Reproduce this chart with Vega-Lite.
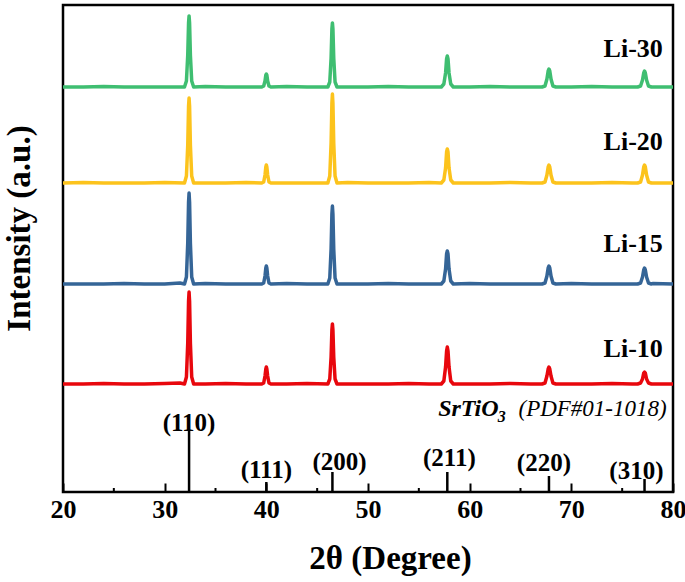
{
"$schema":"https://vega.github.io/schema/vega-lite/v6.json",
"width":610,"height":487,
"autosize":{"type":"none"},
"padding":{"left":63,"top":5,"right":12,"bottom":90},
"background":"white",
"config":{"font":"Liberation Serif","view":{"stroke":"black","strokeWidth":2.5}},
"datasets":{
"xrd":[
{"s":"Li-10","x":20,"y":108},{"s":"Li-10","x":22,"y":108},{"s":"Li-10","x":24,"y":108.5},{"s":"Li-10","x":26,"y":108},{"s":"Li-10","x":28,"y":108},{"s":"Li-10","x":30,"y":108.5},{"s":"Li-10","x":31.5,"y":109},{"s":"Li-10","x":34,"y":108},{"s":"Li-10","x":36,"y":108.5},{"s":"Li-10","x":38,"y":108},{"s":"Li-10","x":42,"y":108},{"s":"Li-10","x":44,"y":108.5},{"s":"Li-10","x":48,"y":108},{"s":"Li-10","x":50,"y":108},{"s":"Li-10","x":52,"y":108},{"s":"Li-10","x":54,"y":108.5},{"s":"Li-10","x":56,"y":108},{"s":"Li-10","x":60,"y":108},{"s":"Li-10","x":62,"y":108},{"s":"Li-10","x":64,"y":108.5},{"s":"Li-10","x":66,"y":108},{"s":"Li-10","x":70,"y":108},{"s":"Li-10","x":72,"y":108},{"s":"Li-10","x":74,"y":108.5},{"s":"Li-10","x":76,"y":108},{"s":"Li-10","x":78,"y":108},{"s":"Li-10","x":80,"y":108},
{"s":"Li-10","x":31.95,"y":108},{"s":"Li-10","x":32.14,"y":115},{"s":"Li-10","x":32.27,"y":149},{"s":"Li-10","x":32.35,"y":191},{"s":"Li-10","x":32.4,"y":200},{"s":"Li-10","x":32.45,"y":191},{"s":"Li-10","x":32.53,"y":149},{"s":"Li-10","x":32.66,"y":115},{"s":"Li-10","x":32.85,"y":108},
{"s":"Li-10","x":39.55,"y":108},{"s":"Li-10","x":39.74,"y":109},{"s":"Li-10","x":39.87,"y":116},{"s":"Li-10","x":39.95,"y":123},{"s":"Li-10","x":40,"y":125},{"s":"Li-10","x":40.05,"y":123},{"s":"Li-10","x":40.13,"y":116},{"s":"Li-10","x":40.26,"y":109},{"s":"Li-10","x":40.45,"y":108},
{"s":"Li-10","x":46.05,"y":108},{"s":"Li-10","x":46.24,"y":113},{"s":"Li-10","x":46.37,"y":135},{"s":"Li-10","x":46.45,"y":162},{"s":"Li-10","x":46.5,"y":168},{"s":"Li-10","x":46.55,"y":162},{"s":"Li-10","x":46.63,"y":135},{"s":"Li-10","x":46.76,"y":113},{"s":"Li-10","x":46.95,"y":108},
{"s":"Li-10","x":57.21,"y":108},{"s":"Li-10","x":57.46,"y":111},{"s":"Li-10","x":57.63,"y":125},{"s":"Li-10","x":57.73,"y":141},{"s":"Li-10","x":57.8,"y":145},{"s":"Li-10","x":57.87,"y":141},{"s":"Li-10","x":57.97,"y":125},{"s":"Li-10","x":58.14,"y":111},{"s":"Li-10","x":58.39,"y":108},
{"s":"Li-10","x":67.12,"y":108},{"s":"Li-10","x":67.41,"y":109},{"s":"Li-10","x":67.6,"y":116},{"s":"Li-10","x":67.72,"y":123},{"s":"Li-10","x":67.8,"y":125},{"s":"Li-10","x":67.88,"y":123},{"s":"Li-10","x":68.0,"y":116},{"s":"Li-10","x":68.19,"y":109},{"s":"Li-10","x":68.48,"y":108},
{"s":"Li-10","x":76.52,"y":108},{"s":"Li-10","x":76.81,"y":109},{"s":"Li-10","x":77.0,"y":113},{"s":"Li-10","x":77.12,"y":119},{"s":"Li-10","x":77.2,"y":120},{"s":"Li-10","x":77.28,"y":119},{"s":"Li-10","x":77.4,"y":113},{"s":"Li-10","x":77.59,"y":109},{"s":"Li-10","x":77.88,"y":108},

{"s":"Li-15","x":20,"y":208},{"s":"Li-15","x":22,"y":208},{"s":"Li-15","x":24,"y":208},{"s":"Li-15","x":26,"y":208.5},{"s":"Li-15","x":28,"y":208},{"s":"Li-15","x":30,"y":208},{"s":"Li-15","x":31.5,"y":209},{"s":"Li-15","x":34,"y":208.5},{"s":"Li-15","x":36,"y":208},{"s":"Li-15","x":38,"y":208},{"s":"Li-15","x":42,"y":208.5},{"s":"Li-15","x":44,"y":208},{"s":"Li-15","x":48,"y":208},{"s":"Li-15","x":50,"y":208},{"s":"Li-15","x":52,"y":208.5},{"s":"Li-15","x":54,"y":208},{"s":"Li-15","x":56,"y":208},{"s":"Li-15","x":60,"y":208.5},{"s":"Li-15","x":62,"y":208},{"s":"Li-15","x":64,"y":208},{"s":"Li-15","x":66,"y":208},{"s":"Li-15","x":70,"y":208.5},{"s":"Li-15","x":72,"y":208},{"s":"Li-15","x":74,"y":208},{"s":"Li-15","x":76,"y":208},{"s":"Li-15","x":78,"y":208.5},{"s":"Li-15","x":80,"y":208},
{"s":"Li-15","x":31.95,"y":208},{"s":"Li-15","x":32.14,"y":215},{"s":"Li-15","x":32.27,"y":249},{"s":"Li-15","x":32.35,"y":290},{"s":"Li-15","x":32.4,"y":299},{"s":"Li-15","x":32.45,"y":290},{"s":"Li-15","x":32.53,"y":249},{"s":"Li-15","x":32.66,"y":215},{"s":"Li-15","x":32.85,"y":208},
{"s":"Li-15","x":39.55,"y":208},{"s":"Li-15","x":39.74,"y":209},{"s":"Li-15","x":39.87,"y":216},{"s":"Li-15","x":39.95,"y":224},{"s":"Li-15","x":40,"y":226},{"s":"Li-15","x":40.05,"y":224},{"s":"Li-15","x":40.13,"y":216},{"s":"Li-15","x":40.26,"y":209},{"s":"Li-15","x":40.45,"y":208},
{"s":"Li-15","x":46.05,"y":208},{"s":"Li-15","x":46.24,"y":214},{"s":"Li-15","x":46.37,"y":243},{"s":"Li-15","x":46.45,"y":278},{"s":"Li-15","x":46.5,"y":286},{"s":"Li-15","x":46.55,"y":278},{"s":"Li-15","x":46.63,"y":243},{"s":"Li-15","x":46.76,"y":214},{"s":"Li-15","x":46.95,"y":208},
{"s":"Li-15","x":57.21,"y":208},{"s":"Li-15","x":57.46,"y":211},{"s":"Li-15","x":57.63,"y":223},{"s":"Li-15","x":57.73,"y":238},{"s":"Li-15","x":57.8,"y":241},{"s":"Li-15","x":57.87,"y":238},{"s":"Li-15","x":57.97,"y":223},{"s":"Li-15","x":58.14,"y":211},{"s":"Li-15","x":58.39,"y":208},
{"s":"Li-15","x":67.12,"y":208},{"s":"Li-15","x":67.41,"y":209},{"s":"Li-15","x":67.6,"y":216},{"s":"Li-15","x":67.72,"y":224},{"s":"Li-15","x":67.8,"y":226},{"s":"Li-15","x":67.88,"y":224},{"s":"Li-15","x":68.0,"y":216},{"s":"Li-15","x":68.19,"y":209},{"s":"Li-15","x":68.48,"y":208},
{"s":"Li-15","x":76.52,"y":208},{"s":"Li-15","x":76.81,"y":209},{"s":"Li-15","x":77.0,"y":215},{"s":"Li-15","x":77.12,"y":222},{"s":"Li-15","x":77.2,"y":224},{"s":"Li-15","x":77.28,"y":222},{"s":"Li-15","x":77.4,"y":215},{"s":"Li-15","x":77.59,"y":209},{"s":"Li-15","x":77.88,"y":208},

{"s":"Li-20","x":20,"y":309},{"s":"Li-20","x":22,"y":309.5},{"s":"Li-20","x":24,"y":309},{"s":"Li-20","x":26,"y":309},{"s":"Li-20","x":28,"y":309},{"s":"Li-20","x":30,"y":309.5},{"s":"Li-20","x":34,"y":309},{"s":"Li-20","x":36,"y":309},{"s":"Li-20","x":38,"y":309.5},{"s":"Li-20","x":42,"y":309},{"s":"Li-20","x":44,"y":309},{"s":"Li-20","x":48,"y":309.5},{"s":"Li-20","x":50,"y":309},{"s":"Li-20","x":52,"y":309},{"s":"Li-20","x":54,"y":309},{"s":"Li-20","x":56,"y":309.5},{"s":"Li-20","x":60,"y":309},{"s":"Li-20","x":62,"y":309},{"s":"Li-20","x":64,"y":309.5},{"s":"Li-20","x":66,"y":309},{"s":"Li-20","x":70,"y":309},{"s":"Li-20","x":72,"y":309},{"s":"Li-20","x":74,"y":309.5},{"s":"Li-20","x":76,"y":309},{"s":"Li-20","x":78,"y":309},{"s":"Li-20","x":80,"y":309},
{"s":"Li-20","x":31.95,"y":309},{"s":"Li-20","x":32.14,"y":316},{"s":"Li-20","x":32.27,"y":347},{"s":"Li-20","x":32.35,"y":386},{"s":"Li-20","x":32.4,"y":394},{"s":"Li-20","x":32.45,"y":386},{"s":"Li-20","x":32.53,"y":347},{"s":"Li-20","x":32.66,"y":316},{"s":"Li-20","x":32.85,"y":309},
{"s":"Li-20","x":39.55,"y":309},{"s":"Li-20","x":39.74,"y":310},{"s":"Li-20","x":39.87,"y":317},{"s":"Li-20","x":39.95,"y":325},{"s":"Li-20","x":40,"y":327},{"s":"Li-20","x":40.05,"y":325},{"s":"Li-20","x":40.13,"y":317},{"s":"Li-20","x":40.26,"y":310},{"s":"Li-20","x":40.45,"y":309},
{"s":"Li-20","x":46.05,"y":309},{"s":"Li-20","x":46.24,"y":316},{"s":"Li-20","x":46.37,"y":349},{"s":"Li-20","x":46.45,"y":389},{"s":"Li-20","x":46.5,"y":398},{"s":"Li-20","x":46.55,"y":389},{"s":"Li-20","x":46.63,"y":349},{"s":"Li-20","x":46.76,"y":316},{"s":"Li-20","x":46.95,"y":309},
{"s":"Li-20","x":57.21,"y":309},{"s":"Li-20","x":57.46,"y":312},{"s":"Li-20","x":57.63,"y":324},{"s":"Li-20","x":57.73,"y":340},{"s":"Li-20","x":57.8,"y":343},{"s":"Li-20","x":57.87,"y":340},{"s":"Li-20","x":57.97,"y":324},{"s":"Li-20","x":58.14,"y":312},{"s":"Li-20","x":58.39,"y":309},
{"s":"Li-20","x":67.12,"y":309},{"s":"Li-20","x":67.41,"y":310},{"s":"Li-20","x":67.6,"y":317},{"s":"Li-20","x":67.72,"y":325},{"s":"Li-20","x":67.8,"y":327},{"s":"Li-20","x":67.88,"y":325},{"s":"Li-20","x":68.0,"y":317},{"s":"Li-20","x":68.19,"y":310},{"s":"Li-20","x":68.48,"y":309},
{"s":"Li-20","x":76.52,"y":309},{"s":"Li-20","x":76.81,"y":310},{"s":"Li-20","x":77.0,"y":317},{"s":"Li-20","x":77.12,"y":325},{"s":"Li-20","x":77.2,"y":327},{"s":"Li-20","x":77.28,"y":325},{"s":"Li-20","x":77.4,"y":317},{"s":"Li-20","x":77.59,"y":310},{"s":"Li-20","x":77.88,"y":309},

{"s":"Li-30","x":20,"y":405},{"s":"Li-30","x":22,"y":405},{"s":"Li-30","x":24,"y":405.5},{"s":"Li-30","x":26,"y":405},{"s":"Li-30","x":28,"y":405},{"s":"Li-30","x":30,"y":405},{"s":"Li-30","x":34,"y":405.5},{"s":"Li-30","x":36,"y":405},{"s":"Li-30","x":38,"y":405},{"s":"Li-30","x":42,"y":405.5},{"s":"Li-30","x":44,"y":405},{"s":"Li-30","x":48,"y":405},{"s":"Li-30","x":50,"y":405},{"s":"Li-30","x":52,"y":405.5},{"s":"Li-30","x":54,"y":405},{"s":"Li-30","x":56,"y":405},{"s":"Li-30","x":60,"y":405},{"s":"Li-30","x":62,"y":405.5},{"s":"Li-30","x":64,"y":405},{"s":"Li-30","x":66,"y":405},{"s":"Li-30","x":70,"y":405},{"s":"Li-30","x":72,"y":405.5},{"s":"Li-30","x":74,"y":405},{"s":"Li-30","x":76,"y":405},{"s":"Li-30","x":78,"y":405},{"s":"Li-30","x":80,"y":405},
{"s":"Li-30","x":31.95,"y":405},{"s":"Li-30","x":32.14,"y":411},{"s":"Li-30","x":32.27,"y":437},{"s":"Li-30","x":32.35,"y":469},{"s":"Li-30","x":32.4,"y":476},{"s":"Li-30","x":32.45,"y":469},{"s":"Li-30","x":32.53,"y":437},{"s":"Li-30","x":32.66,"y":411},{"s":"Li-30","x":32.85,"y":405},
{"s":"Li-30","x":39.55,"y":405},{"s":"Li-30","x":39.74,"y":406},{"s":"Li-30","x":39.87,"y":411},{"s":"Li-30","x":39.95,"y":417},{"s":"Li-30","x":40,"y":418},{"s":"Li-30","x":40.05,"y":417},{"s":"Li-30","x":40.13,"y":411},{"s":"Li-30","x":40.26,"y":406},{"s":"Li-30","x":40.45,"y":405},
{"s":"Li-30","x":46.05,"y":405},{"s":"Li-30","x":46.24,"y":410},{"s":"Li-30","x":46.37,"y":434},{"s":"Li-30","x":46.45,"y":463},{"s":"Li-30","x":46.5,"y":469},{"s":"Li-30","x":46.55,"y":463},{"s":"Li-30","x":46.63,"y":434},{"s":"Li-30","x":46.76,"y":410},{"s":"Li-30","x":46.95,"y":405},
{"s":"Li-30","x":57.21,"y":405},{"s":"Li-30","x":57.46,"y":408},{"s":"Li-30","x":57.63,"y":419},{"s":"Li-30","x":57.73,"y":433},{"s":"Li-30","x":57.8,"y":436},{"s":"Li-30","x":57.87,"y":433},{"s":"Li-30","x":57.97,"y":419},{"s":"Li-30","x":58.14,"y":408},{"s":"Li-30","x":58.39,"y":405},
{"s":"Li-30","x":67.12,"y":405},{"s":"Li-30","x":67.41,"y":406},{"s":"Li-30","x":67.6,"y":413},{"s":"Li-30","x":67.72,"y":421},{"s":"Li-30","x":67.8,"y":423},{"s":"Li-30","x":67.88,"y":421},{"s":"Li-30","x":68.0,"y":413},{"s":"Li-30","x":68.19,"y":406},{"s":"Li-30","x":68.48,"y":405},
{"s":"Li-30","x":76.52,"y":405},{"s":"Li-30","x":76.81,"y":406},{"s":"Li-30","x":77.0,"y":412},{"s":"Li-30","x":77.12,"y":419},{"s":"Li-30","x":77.2,"y":421},{"s":"Li-30","x":77.28,"y":419},{"s":"Li-30","x":77.4,"y":412},{"s":"Li-30","x":77.59,"y":406},{"s":"Li-30","x":77.88,"y":405}
],
"sticks":[
{"x":32.4,"y":0,"h":61},{"x":40.0,"y":0,"h":10},{"x":46.5,"y":0,"h":20},{"x":57.8,"y":0,"h":20},{"x":67.8,"y":0,"h":16},{"x":77.2,"y":0,"h":13}
],
"hkl":[
{"x":32.4,"y":69,"t":"(110)"},{"x":40.0,"y":22,"t":"(111)"},{"x":47.2,"y":30,"t":"(200)"},{"x":58.0,"y":34,"t":"(211)"},{"x":67.3,"y":29,"t":"(220)"},{"x":76.4,"y":21,"t":"(310)"}
],
"minor":[
{"x":25,"y":0,"h":4},{"x":35,"y":0,"h":4},{"x":45,"y":0,"h":4},{"x":55,"y":0,"h":4},{"x":65,"y":0,"h":4},{"x":75,"y":0,"h":4}
],
"names":[
{"x":79,"y":435,"t":"Li-30"},{"x":79,"y":342,"t":"Li-20"},{"x":79,"y":240,"t":"Li-15"},{"x":79,"y":135,"t":"Li-10"}
]
},
"encoding":{
"x":{"field":"x","type":"quantitative","scale":{"domain":[20,80],"nice":false,"zero":false},
"axis":{"values":[20,30,40,50,60,70,80],"tickSize":-9,"tickWidth":2,"tickColor":"black","domain":false,"grid":false,"labelFont":"Liberation Serif","labelFontSize":26,"labelFontWeight":"bold","labelColor":"black","labelPadding":13,"labelFlush":false,
"title":"2θ (Degree)","titleFont":"Liberation Serif","titleFontSize":33,"titleFontWeight":"bold","titleColor":"black","titlePadding":20,"titleX":327}},
"y":{"field":"y","type":"quantitative","scale":{"domain":[0,487],"nice":false,"zero":false},
"axis":{"labels":false,"ticks":false,"domain":false,"grid":false,"title":"Intensity (a.u.)","titleFont":"Liberation Serif","titleFontSize":33,"titleFontWeight":"bold","titleColor":"black","titlePadding":27,"titleY":223}}
},
"layer":[
{"data":{"name":"xrd"},"mark":{"type":"line","strokeWidth":3.5,"strokeJoin":"round"},
 "encoding":{"color":{"field":"s","type":"nominal","scale":{"domain":["Li-10","Li-15","Li-20","Li-30"],"range":["#e8070d","#356597","#fcc31c","#3fbe71"]},"legend":null}}},
{"data":{"name":"sticks"},"mark":{"type":"rule","color":"black","strokeWidth":2.5},
 "encoding":{"y2":{"field":"h"}}},
{"data":{"name":"minor"},"mark":{"type":"rule","color":"black","strokeWidth":2},
 "encoding":{"y2":{"field":"h"}}},
{"data":{"name":"hkl"},"mark":{"type":"text","font":"Liberation Serif","fontWeight":"bold","fontSize":25,"color":"black","baseline":"middle","align":"center"},
 "encoding":{"text":{"field":"t"}}},
{"data":{"name":"names"},"mark":{"type":"text","font":"Liberation Serif","fontWeight":"bold","fontSize":26,"color":"black","baseline":"alphabetic","align":"right"},
 "encoding":{"text":{"field":"t"}}},
{"data":{"values":[{"x":56.9,"y":76,"t":"SrTiO"}]},"mark":{"type":"text","font":"Liberation Serif","fontWeight":"bold","fontStyle":"italic","fontSize":24,"color":"black","baseline":"alphabetic","align":"left"},
 "encoding":{"text":{"field":"t"}}},
{"data":{"values":[{"x":62.75,"y":70,"t":"3"}]},"mark":{"type":"text","font":"Liberation Serif","fontWeight":"bold","fontStyle":"italic","fontSize":16,"color":"black","baseline":"alphabetic","align":"left"},
 "encoding":{"text":{"field":"t"}}},
{"data":{"values":[{"x":64.8,"y":76,"t":"(PDF#01-1018)"}]},"mark":{"type":"text","font":"Liberation Serif","fontStyle":"italic","fontSize":23,"color":"black","baseline":"alphabetic","align":"left"},
 "encoding":{"text":{"field":"t"}}}
]
}
